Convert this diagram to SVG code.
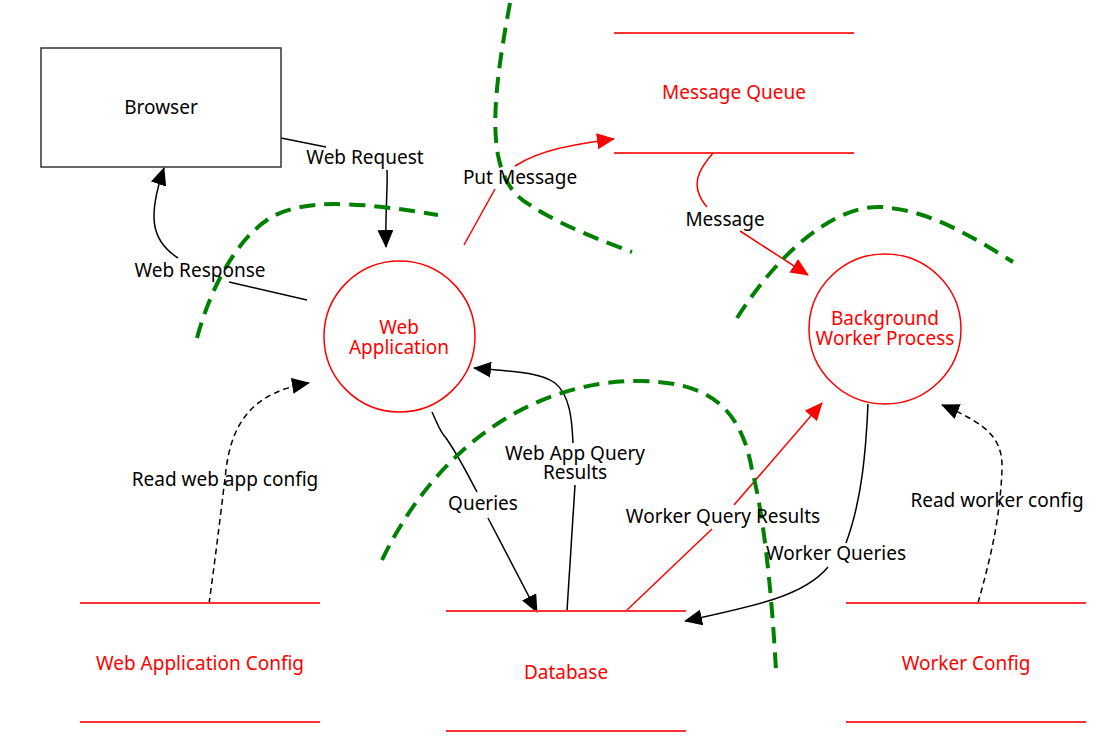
<svg xmlns="http://www.w3.org/2000/svg" width="1108" height="744" viewBox="0 0 1108 744">
<style>
text{font-family:"Noto Sans","Open Sans","DejaVu Sans",sans-serif;font-size:19px;text-anchor:middle}
.lbl{fill:#000}
.nl{fill:#ff0000}
.store{stroke:#ff3333;stroke-width:2;fill:none}
.proc{stroke:#ff0000;stroke-width:1.5;fill:#fff}
.c{fill:none;stroke:#000;stroke-width:1.5}
.cr{fill:none;stroke:#ff0000;stroke-width:1.5}
.dash{stroke-dasharray:6,4}
.tb{fill:none;stroke:#008000;stroke-width:4;stroke-dasharray:16,9}
</style>
<defs>
<marker id="ab" markerUnits="userSpaceOnUse" markerWidth="18" markerHeight="16" viewBox="0 0 18 16" refX="17" refY="8" orient="auto"><path d="M0,0 L18,8 L0,16 z" fill="#000"/></marker>
<marker id="ar" markerUnits="userSpaceOnUse" markerWidth="18" markerHeight="16" viewBox="0 0 18 16" refX="17" refY="8" orient="auto"><path d="M0,0 L18,8 L0,16 z" fill="#ff0000"/></marker>
</defs>
<rect width="1108" height="744" fill="#fff"/>
<g id="connectors">
<path class="c" d="M281,138 L326,147"/>
<path class="c" d="M387,170 C388,185 385,215 386,247" marker-end="url(#ab)"/>
<path class="c" d="M307,300 L229,282"/>
<path class="c" d="M178,258 C150,240 148,215 164,168" marker-end="url(#ab)"/>
<path class="cr" d="M464,245 L495,189"/>
<path class="cr" d="M515,166 C540,150 570,145 614,139" marker-end="url(#ar)"/>
<path class="cr" d="M713,153 C700,168 688,185 707,207"/>
<path class="cr" d="M740,231 L808,275" marker-end="url(#ar)"/>
<path class="c" d="M432,412 C438,425 440,432 446,438 C458,455 468,475 477,492"/>
<path class="c" d="M488,518 L537,612" marker-end="url(#ab)"/>
<path class="c" d="M567,611 L575,485"/>
<path class="c" d="M573,443 C572,420 570,395 555,383 C540,372 515,372 474,368" marker-end="url(#ab)"/>
<path class="cr" d="M626,611 L712,529"/>
<path class="cr" d="M734,505 L822,403" marker-end="url(#ar)"/>
<path class="c" d="M868,404 C866,450 862,500 846,543"/>
<path class="c" d="M828,567 C805,595 760,605 685,621" marker-end="url(#ab)"/>
<path class="c dash" d="M209,604 C215,560 220,520 226,470 C232,420 255,392 309,383" marker-end="url(#ab)"/>
<path class="c dash" d="M978,603 C990,560 1000,520 1002,470 C1003,440 990,425 942,405" marker-end="url(#ab)"/>
</g>
<g id="boundaries">
<path class="tb" d="M197,338 C210,290 235,240 270,218 C300,200 350,200 438,215"/>
<path class="tb" d="M510,3 C490,110 485,180 530,205 C560,225 600,240 632,252"/>
<path class="tb" d="M737,318 C790,235 850,200 890,208 C930,212 970,235 1013,262"/>
<path class="tb" d="M382,560 C440,440 540,380 640,381 C700,382 740,400 752,470 C765,520 772,600 776,670"/>
</g>
<g id="labels">
<text class="lbl" x="365" y="164">Web Request</text>
<text class="lbl" x="200" y="277">Web Response</text>
<text class="lbl" x="520" y="184">Put Message</text>
<text class="lbl" x="725" y="226">Message</text>
<text class="lbl" x="483" y="510">Queries</text>
<text class="lbl" x="575" y="460">Web App Query<tspan x="575" dy="19">Results</tspan></text>
<text class="lbl" x="723" y="523">Worker Query Results</text>
<text class="lbl" x="836" y="560">Worker Queries</text>
<text class="lbl" x="225" y="486">Read web app config</text>
<text class="lbl" x="997" y="507">Read worker config</text>
</g>
<g id="browser">
<rect x="41" y="48" width="240" height="119" fill="#fff" stroke="#333" stroke-width="1.5"/>
<text class="lbl" x="161" y="114">Browser</text>
</g>
<g id="web-application">
<circle class="proc" cx="399.5" cy="336.5" r="75.5"/>
<text class="nl" x="399" y="334">Web<tspan x="399" dy="20">Application</tspan></text>
</g>
<g id="background-worker">
<ellipse class="proc" cx="885" cy="329" rx="76" ry="75"/>
<text class="nl" x="885" y="325">Background<tspan x="885" dy="20">Worker Process</tspan></text>
</g>
<g id="message-queue">
<line class="store" x1="614" y1="33" x2="854" y2="33"/>
<line class="store" x1="614" y1="153" x2="854" y2="153"/>
<text class="nl" x="734" y="99">Message Queue</text>
</g>
<g id="database">
<line class="store" x1="446" y1="611" x2="686" y2="611"/>
<line class="store" x1="446" y1="731" x2="686" y2="731"/>
<text class="nl" x="566" y="679">Database</text>
</g>
<g id="web-app-config">
<line class="store" x1="80" y1="603" x2="320" y2="603"/>
<line class="store" x1="80" y1="722" x2="320" y2="722"/>
<text class="nl" x="200" y="670">Web Application Config</text>
</g>
<g id="worker-config">
<line class="store" x1="846" y1="603" x2="1086" y2="603"/>
<line class="store" x1="846" y1="722" x2="1086" y2="722"/>
<text class="nl" x="966" y="670">Worker Config</text>
</g>
</svg>
